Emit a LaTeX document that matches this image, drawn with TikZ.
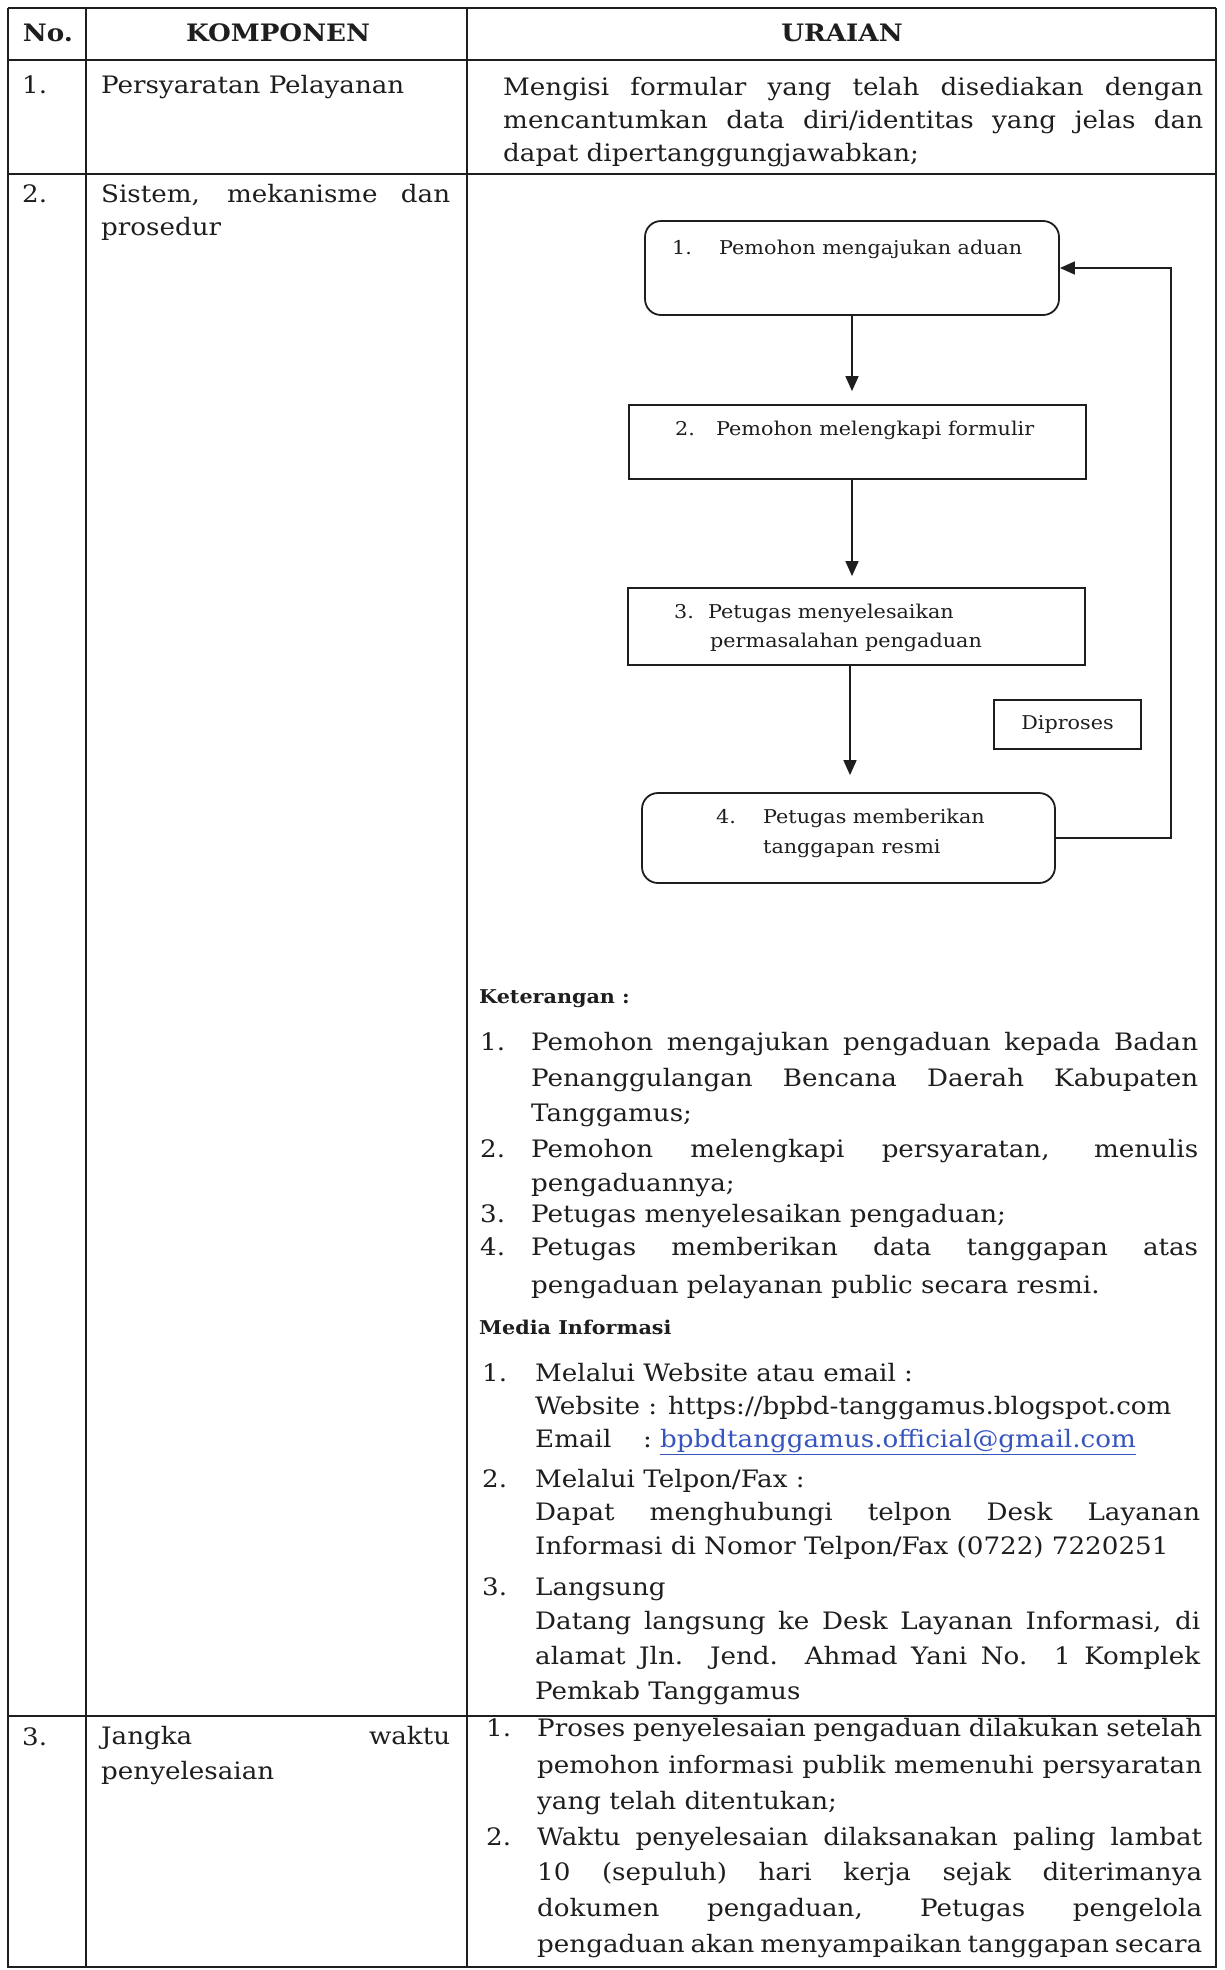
\documentclass[tikz,border=0pt]{standalone}
\usepackage{fontspec}
\setmainfont{DejaVu Serif}[FakeStretch=1.09]
\usetikzlibrary{arrows.meta}
\definecolor{linkblue}{RGB}{55,85,190}
\definecolor{ink}{RGB}{30,30,30}
\newcommand\bsz{\fontsize{24}{28}\selectfont}
\newcommand\fsz{\fontsize{19}{23}\selectfont}
\newcommand\hsz{\fontsize{24}{28}\selectfont\bfseries}
\newcommand\ksz{\fontsize{19}{23}\selectfont\bfseries}
\newcommand\jline[2]{\makebox[#1][s]{#2}}
\begin{document}
\begin{tikzpicture}[x=1pt,y=-1pt,
  tx/.style={anchor=west,inner sep=0pt,text height=18pt,text depth=6pt,font=\bsz,text=ink},
  fx/.style={anchor=west,inner sep=0pt,text height=14pt,text depth=5pt,font=\fsz,text=ink},
  hd/.style={inner sep=0pt,font=\hsz,text=ink},
  kx/.style={anchor=west,inner sep=0pt,text height=15pt,text depth=5pt,font=\ksz,text=ink},
  vline/.style={draw=ink,line width=1.4pt},
  hline/.style={draw=ink,line width=2.4pt},
  fbox/.style={draw=ink,line width=1.8pt,inner sep=0pt},
  rbox/.style={fbox,rounded corners=16pt},
  arr/.style={draw=ink,line width=1.6pt,-{Triangle[width=13pt,length=15pt]}},
]
\fill[white] (0,0) rectangle (1224,1970);
\useasboundingbox (0,0) rectangle (1224,1970);

% ---------- table grid ----------
\draw[vline] (8,8) -- (8,1968);
\draw[vline] (86,8) -- (86,1968);
\draw[vline] (467,8) -- (467,1968);
\draw[vline] (1216,8) -- (1216,1968);
\draw[hline] (8,8) -- (1216,8);
\draw[hline] (8,60) -- (1216,60);
\draw[hline] (8,174) -- (1216,174);
\draw[hline] (8,1716) -- (1216,1716);
\draw[hline] (8,1967) -- (1216,1967);

% ---------- header ----------
\node[hd] (hno) at (48,33) {No.};
\node[hd] (hkomp) at (278,33) {KOMPONEN};
\node[hd] (hur) at (842,33) {URAIAN};

% ---------- row 1 ----------
\node[tx] (r1no) at (22,87) {1.};
\node[tx] (r1k) at (101,87) {Persyaratan Pelayanan};
\node[tx] (r1a) at (503,89) {\jline{700pt}{Mengisi formular yang telah disediakan dengan}};
\node[tx] (r1b) at (503,122) {\jline{700pt}{mencantumkan data diri/identitas yang jelas dan}};
\node[tx] (r1c) at (503,155) {dapat dipertanggungjawabkan;};

% ---------- row 2 ----------
\node[tx] (r2no) at (22,196) {2.};
\node[tx] (r2a) at (101,196) {\jline{349pt}{Sistem, mekanisme dan}};
\node[tx] (r2b) at (101,229) {prosedur};

% ---------- flowchart ----------
\node[rbox,minimum width=414pt,minimum height=94pt] (b1) at (852,268) {};
\node[fbox,minimum width=457pt,minimum height=74pt] (b2) at (857.5,442) {};
\node[fbox,minimum width=457pt,minimum height=77pt] (b3) at (856.5,626.5) {};
\node[rbox,minimum width=413pt,minimum height=90pt] (b4) at (848.5,838) {};
\node[fbox,minimum width=147pt,minimum height=49pt,font=\fsz,text=ink] (dp) at (1067.5,724.5) {Diproses};

\node[fx] (t1n) at (672,250) {1.};
\node[fx] (t1) at (719,250) {Pemohon mengajukan aduan};
\node[fx] (t2n) at (675,431) {2.};
\node[fx] (t2) at (716,431) {Pemohon melengkapi formulir};
\node[fx] (t3n) at (674,614) {3.};
\node[fx] (t3a) at (708,614) {Petugas menyelesaikan};
\node[fx] (t3b) at (710,643) {permasalahan pengaduan};
\node[fx] (t4n) at (716,819) {4.};
\node[fx] (t4a) at (763,819) {Petugas memberikan};
\node[fx] (t4b) at (763,849) {tanggapan resmi};

\coordinate (ax) at (852,0);
\coordinate (ax3) at (850,0);
\coordinate (fb) at (1171,0);
\draw[arr,shorten >=13pt] (b1.south -| ax) -- (b2.north -| ax);
\draw[arr,shorten >=11pt] (b2.south -| ax) -- (b3.north -| ax);
\draw[arr,shorten >=17pt] (b3.south -| ax3) -- (b4.north -| ax3);
\draw[arr] (b4.east) -- (b4.east -| fb) |- (b1.east);

% ---------- keterangan ----------
\node[kx] (ket) at (479,998) {Keterangan :};
\node[tx] (k1n) at (480,1044) {1.};
\node[tx] (k1a) at (531,1044) {\jline{667pt}{Pemohon mengajukan pengaduan kepada Badan}};
\node[tx] (k1b) at (531,1080) {\jline{667pt}{Penanggulangan Bencana Daerah Kabupaten}};
\node[tx] (k1c) at (531,1115) {Tanggamus;};
\node[tx] (k2n) at (480,1151) {2.};
\node[tx] (k2a) at (531,1151) {\jline{667pt}{Pemohon melengkapi persyaratan, menulis}};
\node[tx] (k2b) at (531,1185) {pengaduannya;};
\node[tx] (k3n) at (480,1216) {3.};
\node[tx] (k3a) at (531,1216) {Petugas menyelesaikan pengaduan;};
\node[tx] (k4n) at (480,1249) {4.};
\node[tx] (k4a) at (531,1249) {\jline{667pt}{Petugas memberikan data tanggapan atas}};
\node[tx] (k4b) at (531,1287) {pengaduan pelayanan public secara resmi.};

% ---------- media informasi ----------
\node[kx] (med) at (479,1329) {Media Informasi};
\node[tx] (m1n) at (482,1375) {1.};
\node[tx] (m1a) at (535,1375) {Melalui Website atau email :};
\node[tx] (m1b) at (535,1408) {Website : https://bpbd-tanggamus.blogspot.com};
\node[tx] (m1c) at (535,1441) {Email};
\node[tx] (m1d) at (643,1441) {:};
\node[tx] (m1e) at (660,1441) {\color{linkblue}\underline{bpbdtanggamus.official@gmail.com}};
\node[tx] (m2n) at (482,1481) {2.};
\node[tx] (m2a) at (535,1481) {Melalui Telpon/Fax :};
\node[tx] (m2b) at (535,1514) {\jline{665pt}{Dapat menghubungi telpon Desk Layanan}};
\node[tx] (m2c) at (535,1548) {Informasi di Nomor Telpon/Fax (0722) 7220251};
\node[tx] (m3n) at (482,1589) {3.};
\node[tx] (m3a) at (535,1589) {Langsung};
\node[tx] (m3b) at (535,1623) {\jline{665pt}{Datang langsung ke Desk Layanan Informasi, di}};
\node[tx] (m3c) at (535,1658) {\jline{665pt}{alamat Jln. Jend. Ahmad Yani No. 1 Komplek}};
\node[tx] (m3d) at (535,1693) {Pemkab Tanggamus};

% ---------- row 3 ----------
\node[tx] (r3no) at (22,1739) {3.};
\node[tx] (r3a) at (101,1738) {\jline{349pt}{Jangka waktu}};
\node[tx] (r3b) at (101,1773) {penyelesaian};
\node[tx] (j1n) at (486,1730) {1.};
\node[tx] (j1a) at (537,1730) {\jline{665pt}{Proses penyelesaian pengaduan dilakukan setelah}};
\node[tx] (j1b) at (537,1767) {\jline{665pt}{pemohon informasi publik memenuhi persyaratan}};
\node[tx] (j1c) at (537,1803) {yang telah ditentukan;};
\node[tx] (j2n) at (486,1839) {2.};
\node[tx] (j2a) at (537,1839) {\jline{665pt}{Waktu penyelesaian dilaksanakan paling lambat}};
\node[tx] (j2b) at (537,1874) {\jline{665pt}{10 (sepuluh) hari kerja sejak diterimanya}};
\node[tx] (j2c) at (537,1910) {\jline{665pt}{dokumen pengaduan, Petugas pengelola}};
\node[tx] (j2d) at (537,1946) {\jline{665pt}{pengaduan akan menyampaikan tanggapan secara}};
\end{tikzpicture}
\end{document}
